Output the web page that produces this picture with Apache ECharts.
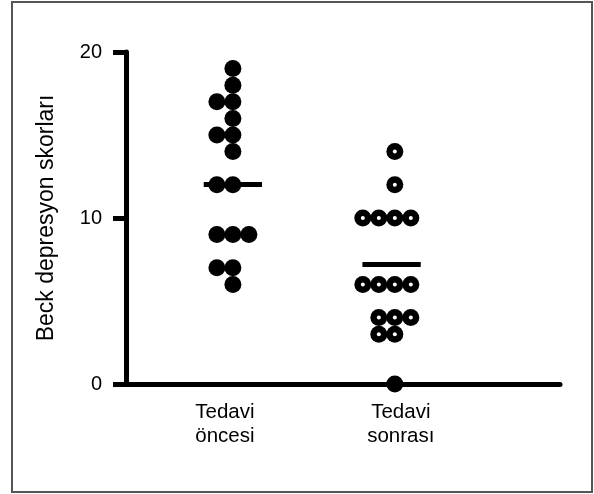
<!DOCTYPE html>
<html><head><meta charset="utf-8">
<script src="https://cdn.jsdelivr.net/npm/echarts@6/dist/echarts.min.js"></script>
<style>html,body{margin:0;padding:0;background:#fff}#c{width:594px;height:494px}</style>
</head><body><div id="c"></div>
<script>
const categories = ['Tedavi\nöncesi', 'Tedavi\nsonrası'];
const before = [19, 18, 17, 17, 16, 15, 15, 14, 12, 12, 9, 9, 9, 7, 7, 6];
const after = [14, 12, 10, 10, 10, 10, 6, 6, 6, 6, 4, 4, 4, 3, 3, 0];
const lineValues = [12.05, 7.2];
const yTicks = [0, 10, 20];

const slotWidth = 0.0988;
function layout(values, center) {
  const rows = {};
  values.forEach(v => (rows[v] = rows[v] || []).push(v));
  const pts = [];
  Object.keys(rows).forEach(k => {
    const n = rows[k].length;
    const start = -Math.floor(n / 2);
    for (let i = 0; i < n; i++) pts.push([center + (start + i) * slotWidth, Number(k)]);
  });
  return pts;
}
const font = 'Liberation Sans, Arial, Helvetica, sans-serif';
const chart = echarts.init(document.getElementById('c'));
const beforePts = layout(before, 1);
const afterPts = layout(after, 2);
function meanLine(c, v) {
  return [[{ coord: [c - 0.18, v] }, { coord: [c + 0.18, v] }]];
}
const labelStyle = { fontSize: 20.5, lineHeight: 24, color: '#000', fontFamily: font };
chart.setOption({
  animation: false,
  backgroundColor: '#fff',
  graphic: [{
    type: 'rect', shape: { x: 12, y: 2, width: 580, height: 490 },
    style: { fill: 'none', stroke: '#555', lineWidth: 2 }, silent: true
  }],
  grid: { left: 126, right: 34, top: 52, bottom: 110 },
  xAxis: {
    type: 'value', min: 0.34, max: 3.02, z: 5,
    axisLine: { show: true, onZero: false, lineStyle: { color: '#000', width: 5 } },
    axisTick: { show: false },
    splitLine: { show: false },
    axisLabel: {
      customValues: [1, 2],
      formatter: v => {
        const i = Math.round(v) - 1;
        const tag = i === 0 ? 'l' : 'r';
        return categories[i].split('\n').map(s => '{' + tag + '|' + s + '}').join('\n');
      },
      margin: 16,
      rich: {
        l: Object.assign({ padding: [0, 16, 0, 0] }, labelStyle),
        r: Object.assign({ padding: [0, 0, 0, 12] }, labelStyle)
      }
    }
  },
  yAxis: {
    type: 'value', min: yTicks[0], max: yTicks[yTicks.length - 1], interval: 10,
    name: 'Beck depresyon skorları', nameLocation: 'middle', nameRotate: 90, nameGap: 68,
    nameTextStyle: { fontSize: 23, color: '#000', fontFamily: font },
    axisLine: { show: true, onZero: false, lineStyle: { color: '#000', width: 5 } },
    axisTick: { show: true, length: 13, lineStyle: { color: '#000', width: 5 } },
    splitLine: { show: false },
    axisLabel: { fontSize: 20, color: '#000', margin: 24, fontFamily: font }
  },
  series: [
    {
      type: 'scatter', data: beforePts, symbolSize: 17, z: 2,
      itemStyle: { color: '#000', opacity: 1 },
      markLine: {
        silent: true, symbol: 'none', label: { show: false },
        lineStyle: { color: '#000', width: 5, type: 'solid' },
        data: meanLine(1, lineValues[0])
      }
    },
    {
      type: 'scatter', data: afterPts, symbolSize: 17, z: 2,
      itemStyle: { color: '#000', opacity: 1 },
      markLine: {
        silent: true, symbol: 'none', label: { show: false },
        lineStyle: { color: '#000', width: 5, type: 'solid' },
        data: meanLine(1.98, lineValues[1])
      }
    },
    {
      type: 'scatter', data: afterPts, symbolSize: 4, z: 3,
      itemStyle: { color: '#fff', opacity: 1 }
    }
  ]
});
</script></body></html>
